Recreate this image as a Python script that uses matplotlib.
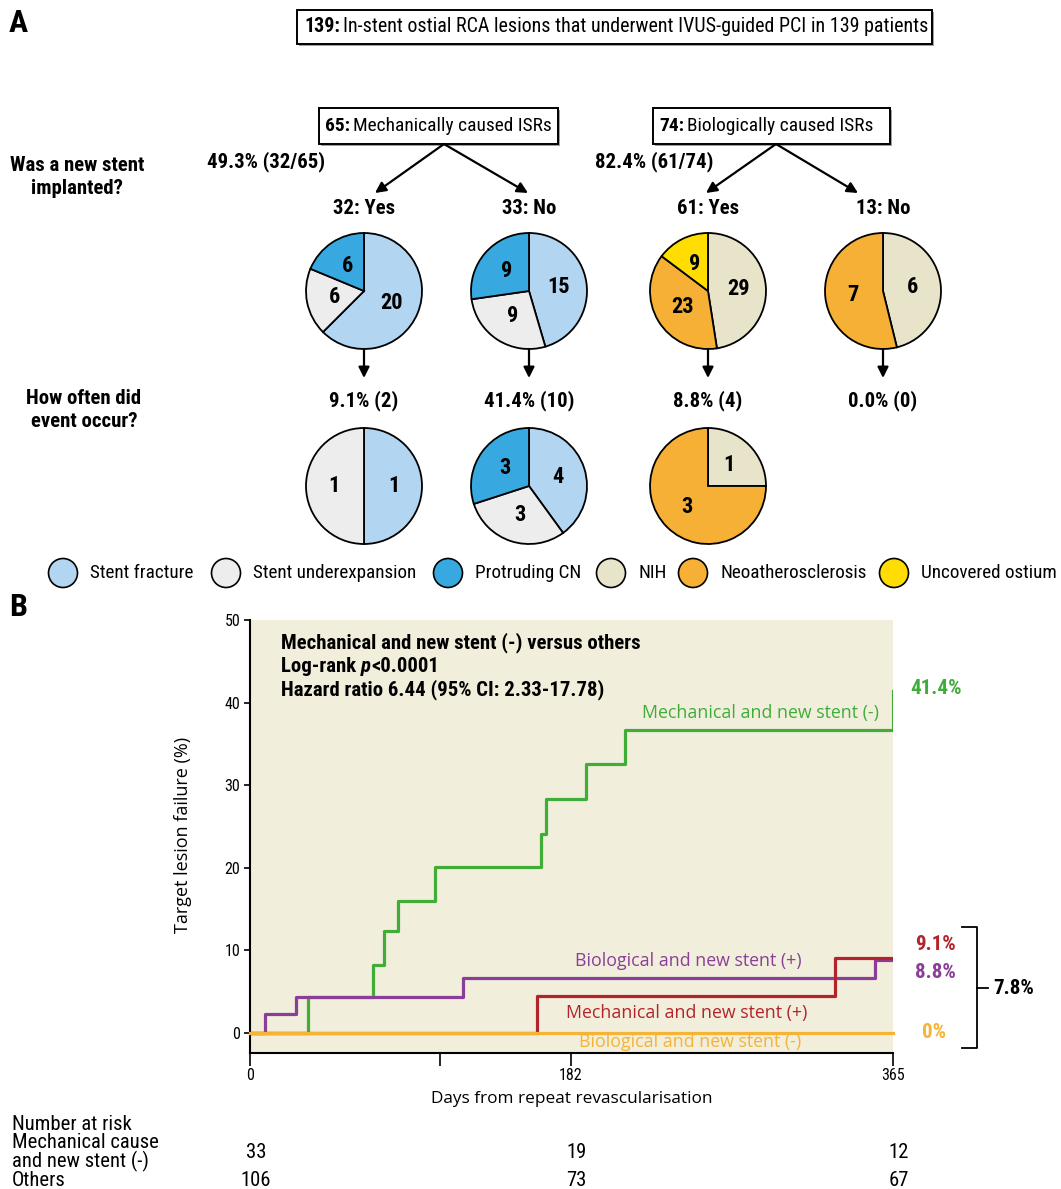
import matplotlib
matplotlib.use('Agg')
import matplotlib.pyplot as plt
from matplotlib.patches import Rectangle, Circle
from matplotlib.font_manager import FontProperties

# ---------------- data ----------------
legend_labels = ['Stent fracture', 'Stent underexpansion', 'Protruding CN', 'NIH',
                 'Neoatherosclerosis', 'Uncovered ostium']
legend_colors = ['#B2D5F1', '#EDEDED', '#38A9E0', '#E8E4CA', '#F6B035', '#FFDD00']

total_text = 'In-stent ostial RCA lesions that underwent IVUS-guided PCI in 139 patients'
total_n = 139
mech_n, bio_n = 65, 74
mech_text = 'Mechanically caused ISRs'
bio_text = 'Biologically caused ISRs'
mech_pct_text = '49.3% (32/65)'
bio_pct_text = '82.4% (61/74)'
group_titles = ['32: Yes', '33: No', '61: Yes', '13: No']
event_texts = ['9.1% (2)', '41.4% (10)', '8.8% (4)', '0.0% (0)']

# pie counts (clockwise from 12 o'clock)
pie1_counts = [20, 6, 6]; pie1_cols = ['#B2D5F1', '#EDEDED', '#38A9E0']
pie2_counts = [15, 9, 9]; pie2_cols = ['#B2D5F1', '#EDEDED', '#38A9E0']
pie3_counts = [29, 23, 9]; pie3_cols = ['#E8E4CA', '#F6B035', '#FFDD00']
pie4_counts = [6, 7]; pie4_cols = ['#E8E4CA', '#F6B035']
ev1_counts = [1, 1]; ev1_cols = ['#B2D5F1', '#EDEDED']
ev2_counts = [4, 3, 3]; ev2_cols = ['#B2D5F1', '#EDEDED', '#38A9E0']
ev3_counts = [1, 3]; ev3_cols = ['#E8E4CA', '#F6B035']

# KM curves (days, cumulative target lesion failure %)
mech_neg_days = [0, 33, 70, 76, 84, 105, 165, 168, 191, 213, 365]
mech_neg_tlf = [0, 4.4, 8.2, 12.3, 16.0, 20.1, 24.1, 28.3, 32.6, 36.7, 41.4]
bio_pos_days = [0, 8.5, 26, 121, 355, 365]
bio_pos_tlf = [0, 2.3, 4.4, 6.6, 8.8, 8.8]
mech_pos_days = [0, 163, 332, 365]
mech_pos_tlf = [0, 4.5, 9.1, 9.1]
bio_neg_days = [0, 365]
bio_neg_tlf = [0, 0]

x_ticks = [0, 108, 182, 365]
x_ticklabels = ['0', '', '182', '365']
y_ticks = [0, 10, 20, 30, 40, 50]

risk_times = [0, 182, 365]
risk_mech_neg = [33, 19, 12]
risk_others = [106, 73, 67]

GREEN, PURPLE, RED, ORANGE = '#3FAD38', '#8B3E97', '#B2242B', '#F7B334'

# ---------------- figure ----------------
W, H = 1061, 1189
fig = plt.figure(figsize=(W / 100, H / 100), dpi=100)
NAR = ['Liberation Sans Narrow', 'Roboto Condensed', 'Liberation Sans', 'DejaVu Sans']
REG = ['Open Sans', 'DejaVu Sans']
renderer = fig.canvas.get_renderer()


def fit(s, target, weight='normal', family=NAR, style='normal'):
    fp = FontProperties(family=family, weight=weight, style=style, size=10)
    w, h, d = renderer.get_text_width_height_descent(s, fp, ismath=False)
    return 10 * target / w


HB = fit('Mechanical and new stent (-) versus others', 359, 'bold')
BOXS = fit(total_text, 581)
BOXS2 = min(BOXS, fit(mech_text, 197))
LEGS = fit('Neoatherosclerosis', 146)
RISKS = fit('Mechanical cause', 146)
PCTS = fit('41.4%', 52, 'bold')

ov = fig.add_axes([0, 0, 1, 1])
ov.set_xlim(0, W); ov.set_ylim(H, 0); ov.axis('off')
ov.set_zorder(10)


def bold(x, y, s, size=HB, ha='center', color='black', **kw):
    return ov.text(x, y, s, fontsize=size, fontweight='bold', family=NAR, ha=ha,
                   va='center', color=color, **kw)


# Panel letters
bold(9, 23, 'A', size=23, ha='left')
bold(9, 607, 'B', size=23, ha='left')


# boxes
def box(x0, y0, x1, y1, num, txt, tx, size):
    ov.add_patch(Rectangle((x0 + 1.5, y0 + 1.5), x1 - x0, y1 - y0, fc='#a0a0a0', ec='none', zorder=1))
    ov.add_patch(Rectangle((x0, y0), x1 - x0, y1 - y0, fc='white', ec='black', lw=1.4, zorder=2))
    t1 = ov.text(tx, (y0 + y1) / 2, f'{num}:', fontsize=size, fontweight='bold', family=NAR,
                 ha='left', va='center', zorder=3)
    ov.annotate(txt, xy=(1, 0.5), xycoords=t1, xytext=(2.5, 0), textcoords='offset points',
                fontsize=size, family=NAR, ha='left', va='center', zorder=3)


box(297, 10, 932, 44, total_n, total_text, 304, BOXS)
box(319, 108, 558, 144, mech_n, mech_text, 325, BOXS2)
box(653, 108, 890, 144, bio_n, bio_text, 659, BOXS2)


# arrows
def arrow(p0, p1):
    ov.annotate('', xy=p1, xytext=p0,
                arrowprops=dict(arrowstyle='-|>', color='black', lw=1.6, mutation_scale=16,
                                shrinkA=0, shrinkB=0))


arrow((444, 144), (375, 193)); arrow((444, 144), (528, 193))
arrow((776, 144), (706, 193)); arrow((776, 144), (858, 193))

bold(77, 177, 'Was a new stent\nimplanted?', linespacing=1.3)
bold(84, 410, 'How often did\nevent occur?', linespacing=1.3)
bold(266, 162, mech_pct_text)
bold(654, 162, bio_pct_text)

pie_x = [364, 529, 708, 883]
for x, t in zip(pie_x, group_titles):
    bold(x, 208, t)
for x, t in zip(pie_x, event_texts):
    bold(x, 401, t)
for x in pie_x:
    arrow((x, 349), (x, 378))

R = 58


def pie(cx, cy, counts, cols):
    pad = 3
    a = fig.add_axes([(cx - R - pad) / W, 1 - (cy + R + pad) / H, (2 * R + 2 * pad) / W,
                      (2 * R + 2 * pad) / H])
    tot = sum(counts)
    a.pie(counts, colors=cols, startangle=90, counterclock=False, radius=1,
          wedgeprops=dict(edgecolor='black', linewidth=1.3),
          autopct=lambda p: f'{int(round(p * tot / 100))}', pctdistance=0.52,
          textprops=dict(fontsize=16, fontweight='bold', family=NAR, color='black'))
    lim = (R + pad) / R
    a.set_xlim(-lim, lim); a.set_ylim(-lim, lim); a.axis('off')


pie(364, 291, pie1_counts, pie1_cols)
pie(529, 291, pie2_counts, pie2_cols)
pie(708, 291, pie3_counts, pie3_cols)
pie(883, 291, pie4_counts, pie4_cols)
pie(364, 486, ev1_counts, ev1_cols)
pie(529, 486, ev2_counts, ev2_cols)
pie(708, 486, ev3_counts, ev3_cols)

# legend
leg_x = [63, 226, 448, 611, 693, 894]
for cx, lab, col in zip(leg_x, legend_labels, legend_colors):
    ov.add_patch(Circle((cx, 573), 14.5, fc=col, ec='black', lw=1.2))
    ov.text(cx + 27, 573, lab, fontsize=LEGS, family=NAR, ha='left', va='center')

# ---------------- KM panel ----------------
ax = fig.add_axes([250 / W, 1 - 1053 / H, 643 / W, 433 / H])
ax.set_facecolor('#F2EEDC')
ax.set_xlim(0, 365); ax.set_ylim(-2.42, 50)
for s in ['top', 'right']:
    ax.spines[s].set_visible(False)
for s in ['left', 'bottom']:
    ax.spines[s].set_linewidth(1.5)
ax.set_xticks(x_ticks); ax.set_xticklabels(x_ticklabels)
ax.set_yticks(y_ticks)
ax.tick_params(axis='x', length=9, width=1.2, pad=2, labelsize=11.5)
ax.tick_params(axis='y', length=4.5, width=1.2, pad=2.5, labelsize=11.5)
for lab in ax.get_xticklabels() + ax.get_yticklabels():
    lab.set_family(NAR)

ax.step(mech_neg_days, mech_neg_tlf, where='post', color=GREEN, lw=2.3, zorder=2)
ax.step(bio_pos_days, bio_pos_tlf, where='post', color=PURPLE, lw=2.3, zorder=3)
ax.step(mech_pos_days, mech_pos_tlf, where='post', color=RED, lw=2.3, zorder=4)
ax.step(bio_neg_days, bio_neg_tlf, where='post', color=ORANGE, lw=2.3, zorder=5, clip_on=False)

ax.set_ylabel('Target lesion failure (%)', fontsize=13, family=REG, va='center')
ax.yaxis.set_label_coords((183 - 250) / 643, (1053 - 835) / 433)
ax.set_xlabel('Days from repeat revascularisation', fontsize=12.4, family=REG, va='center')
ax.xaxis.set_label_coords((572 - 250) / 643, (1053 - 1099) / 433)


def dx(px):
    return (px - 250) * 365 / 643


def dy(py):
    return (1033 - py) * 50 / 413


CL = 12.8
ax.text(dx(761), dy(713), 'Mechanical and new stent (-)', color=GREEN, fontsize=CL, family=REG,
        ha='center', va='center')
ax.text(dx(688), dy(961), 'Biological and new stent (+)', color=PURPLE, fontsize=CL, family=REG,
        ha='center', va='center')
ax.text(dx(687), dy(1013), 'Mechanical and new stent (+)', color=RED, fontsize=CL, family=REG,
        ha='center', va='center')
ax.text(dx(690), dy(1042), 'Biological and new stent (-)', color=ORANGE, fontsize=CL, family=REG,
        ha='center', va='center')

# annotation block
bold(281, 643, 'Mechanical and new stent (-) versus others', ha='left')
t_lr = bold(281, 667, 'Log-rank ', ha='left')
t_p = ov.annotate('p', xy=(1, 0.5), xycoords=t_lr, fontsize=HB, fontweight='bold',
                  fontstyle='italic', family=NAR, ha='left', va='center')
ov.annotate('<0.0001', xy=(1, 0.5), xycoords=t_p, fontsize=HB, fontweight='bold',
            family=NAR, ha='left', va='center')
bold(281, 690, 'Hazard ratio 6.44 (95% CI: 2.33-17.78)', ha='left')

# right-side percentages
bold(910, 688, f'{mech_neg_tlf[-1]}%', size=PCTS, ha='left', color=GREEN)
bold(915, 944, f'{mech_pos_tlf[-1]}%', size=PCTS, ha='left', color=RED)
bold(915, 972, f'{bio_pos_tlf[-1]}%', size=PCTS, ha='left', color=PURPLE)
bold(922, 1032, f'{bio_neg_tlf[-1]:.0f}%', size=PCTS, ha='left', color=ORANGE)
ov.plot([962, 977, 977, 962], [927, 927, 1048, 1048], color='black', lw=1.3)
ov.plot([977, 988], [988, 988], color='black', lw=1.3)
bold(993, 988, '7.8%', size=PCTS, ha='left')

# number at risk
for y, s in zip([1124, 1142, 1161, 1180],
                ['Number at risk', 'Mechanical cause', 'and new stent (-)', 'Others']):
    ov.text(12, y, s, fontsize=RISKS, family=NAR, ha='left', va='center')
for t, a, b in zip(risk_times, risk_mech_neg, risk_others):
    px = 250 + t * 643 / 365 + 6
    ov.text(px, 1153, str(a), fontsize=RISKS, family=NAR, ha='center', va='center')
    ov.text(px, 1180, str(b), fontsize=RISKS, family=NAR, ha='center', va='center')

fig.savefig('out.png', dpi=100)
